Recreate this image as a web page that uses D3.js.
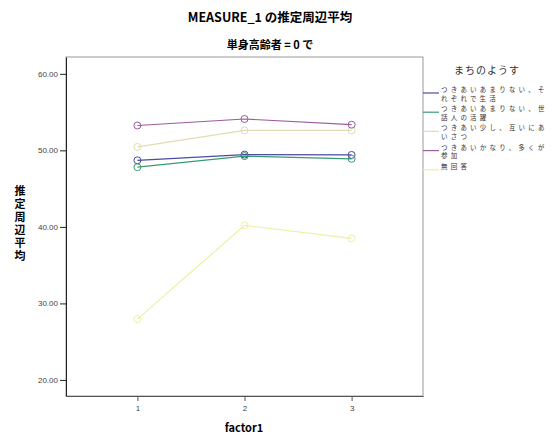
<!DOCTYPE html>
<html>
<head>
<meta charset="utf-8">
<title>MEASURE_1 の推定周辺平均</title>
<style>
  body { margin: 0; background: #fff; }
  .title { font-family: "Noto Sans CJK JP", sans-serif; font-size: 11px; font-weight: bold; }
  .tick text { font-family: "Liberation Sans", sans-serif; font-size: 8px; fill: #444; }
  .legend text { font-family: "Noto Sans CJK JP", sans-serif; font-size: 6.5px; fill: #333; }
</style>
<script src="https://cdnjs.cloudflare.com/ajax/libs/d3/7.8.5/d3.min.js"></script>
</head>
<body>
<script>
// data
var factors = [1, 2, 3];
var groups = ["つきあいあまりない、それぞれで生活", "つきあいあまりない、世話人の活躍",
              "つきあい少し、互いにあいさつ", "つきあいかなり、多くが参加", "無回答"];
var legendLines = [["つきあいあまりない、そ", "れぞれで生活"],
                   ["つきあいあまりない、世", "話人の活躍"],
                   ["つきあい少し、互いにあ", "いさつ"],
                   ["つきあいかなり、多くが", "参加"],
                   ["無回答"]];
var sorezore = [48.7, 49.45, 49.4];
var sewanin = [47.8, 49.25, 48.9];
var aisatsu = [50.45, 52.6, 52.6];
var sanka = [53.25, 54.1, 53.35];
var mukaitou = [27.95, 40.2, 38.5];
var yTicks = [20, 30, 40, 50, 60];
var colors = ["#4a4c9e", "#3a9a72", "#e2dcb4", "#9a5c9c", "#ecf0a4"];

var series = [sorezore, sewanin, aisatsu, sanka, mukaitou];

var width = 554, height = 441;
var margin = {top: 57, right: 131, bottom: 45, left: 66};

var svg = d3.select("body").append("svg")
    .attr("width", width).attr("height", height);

var x = d3.scaleLinear().domain([1 / 3, 11 / 3]).range([margin.left, width - margin.right]);
var y = d3.scaleLinear().domain([17.9, 62.2]).range([height - margin.bottom, margin.top]);

// frame
svg.append("rect")
   .attr("x", margin.left).attr("y", margin.top)
   .attr("width", width - margin.right - margin.left)
   .attr("height", height - margin.bottom - margin.top)
   .attr("fill", "none").attr("stroke", "#999").attr("stroke-width", 1);

// axes
var yAxis = svg.append("g")
   .attr("transform", "translate(" + margin.left + ",0)")
   .call(d3.axisLeft(y).tickValues(yTicks).tickSize(6).tickSizeOuter(0).tickPadding(2)
           .tickFormat(d3.format(".2f")));
yAxis.select(".domain").attr("stroke", "#222");
yAxis.selectAll(".tick line").attr("stroke", "#222");

var xAxis = svg.append("g")
   .attr("transform", "translate(0," + (height - margin.bottom) + ")")
   .call(d3.axisBottom(x).tickValues(factors).tickSize(5).tickSizeOuter(0).tickPadding(4)
           .tickFormat(d3.format("d")));
xAxis.select(".domain").attr("stroke", "#555");
xAxis.selectAll(".tick line").attr("stroke", "#555");

// titles
svg.append("text").attr("class", "title")
   .attr("x", 270).attr("y", 22).attr("text-anchor", "middle")
   .style("font-size", "12.5px")
   .text("MEASURE_1 の推定周辺平均");
svg.append("text").attr("class", "title")
   .attr("x", 270).attr("y", 49).attr("text-anchor", "middle")
   .text("単身高齢者 = 0 で");
svg.append("text").attr("class", "title")
   .attr("x", 244).attr("y", 432).attr("text-anchor", "middle")
   .text("factor1");

// vertical y label, upright characters
svg.append("text")
   .attr("class", "title")
   .attr("x", 20)
   .attr("y", 185)
   .style("writing-mode", "vertical-rl")
   .style("text-orientation", "upright")
   .style("letter-spacing", "2px")
   .text("推定周辺平均");

// lines + markers
var line = d3.line()
   .x(function(d, i) { return x(factors[i]); })
   .y(function(d) { return y(d); });

svg.append("g").selectAll("path")
   .data(series).enter().append("path")
   .attr("d", line)
   .attr("fill", "none")
   .attr("stroke", function(d, i) { return colors[i]; })
   .attr("stroke-width", 1.2);

series.forEach(function(s, k) {
  svg.append("g").selectAll("circle")
     .data(s).enter().append("circle")
     .attr("cx", function(d, i) { return x(factors[i]); })
     .attr("cy", function(d) { return y(d); })
     .attr("r", 3.5)
     .attr("fill", "none")
     .attr("stroke", colors[k])
     .attr("stroke-width", 1);
});

// legend
var legend = svg.append("g").attr("class", "legend");
legend.append("text")
   .attr("x", 487).attr("y", 74).attr("text-anchor", "middle")
   .style("font-size", "10px")
   .style("letter-spacing", "1px")
   .text("まちのようす");

var entry = legend.selectAll(".entry")
   .data(groups).enter().append("g")
   .attr("class", "entry")
   .attr("transform", function(d, i) { return "translate(0," + (93 + i * 19.2) + ")"; });

entry.append("line")
   .attr("x1", 423).attr("x2", 439)
   .attr("y1", 0).attr("y2", 0)
   .attr("stroke", function(d, i) { return colors[i]; })
   .attr("stroke-width", 1.2);

entry.each(function(d, i) {
  d3.select(this).selectAll("text")
    .data(legendLines[i]).enter().append("text")
    .attr("x", 441)
    .attr("y", function(t, j) { return -1 + j * 8.6; })
    .style("letter-spacing", "3.2px")
    .text(function(t) { return t; });
});
</script>
</body>
</html>
